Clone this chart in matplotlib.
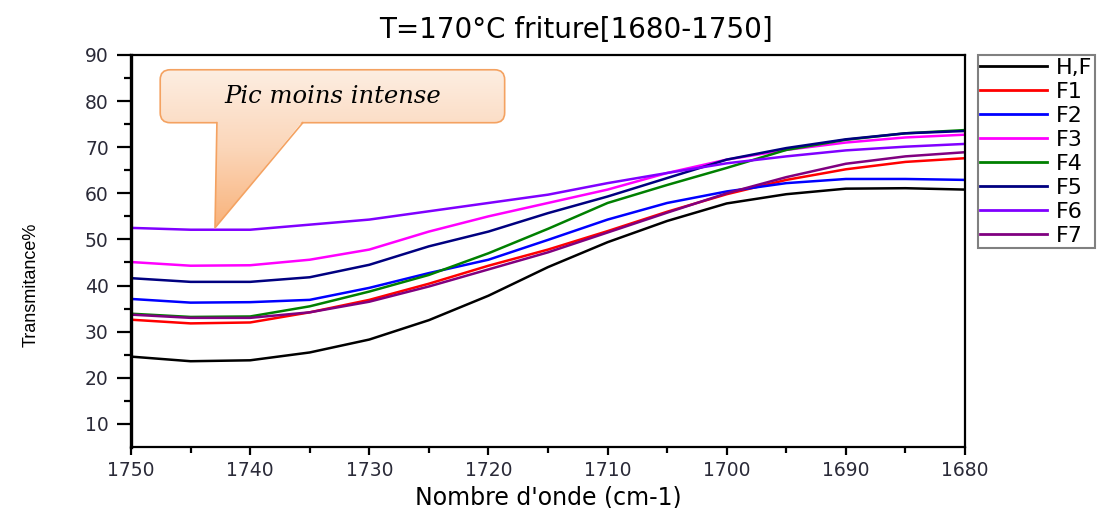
import matplotlib.pyplot as plt
import numpy as np
from matplotlib.patches import FancyBboxPatch, Polygon
from matplotlib.colors import LinearSegmentedColormap

# wavenumbers (cm-1)
wn = [1750, 1745, 1740, 1735, 1730, 1725, 1720, 1715, 1710, 1705, 1700, 1695, 1690, 1685, 1680]

HF = [24.6, 23.6, 23.8, 25.5, 28.3, 32.5, 37.8, 44.0, 49.4, 54.0, 57.8, 59.8, 61.0, 61.1, 60.8]
F1 = [32.6, 31.8, 32.0, 34.2, 36.9, 40.4, 44.3, 47.8, 51.8, 56.0, 59.8, 62.9, 65.2, 66.8, 67.6]
F2 = [37.1, 36.3, 36.4, 36.9, 39.5, 42.7, 45.6, 49.9, 54.3, 57.9, 60.4, 62.2, 63.1, 63.1, 62.9]
F3 = [45.1, 44.3, 44.4, 45.6, 47.8, 51.7, 55.0, 57.9, 60.8, 64.4, 67.3, 69.4, 71.0, 72.1, 72.7]
F4 = [33.9, 33.2, 33.3, 35.5, 38.7, 42.3, 47.0, 52.3, 57.9, 61.8, 65.5, 69.4, 71.6, 73.0, 73.7]
F5 = [41.6, 40.8, 40.8, 41.8, 44.5, 48.5, 51.7, 55.7, 59.3, 63.3, 67.3, 69.8, 71.7, 73.0, 73.5]
F6 = [52.5, 52.1, 52.1, 53.2, 54.3, 56.1, 57.9, 59.7, 62.2, 64.4, 66.5, 68.0, 69.3, 70.1, 70.7]
F7 = [33.7, 33.0, 33.0, 34.2, 36.5, 39.8, 43.5, 47.2, 51.5, 55.8, 60.0, 63.5, 66.4, 68.0, 68.9]

labels = ['H,F', 'F1', 'F2', 'F3', 'F4', 'F5', 'F6', 'F7']
colors = ['black', '#ff0000', '#0000ff', '#ff00ff', '#008000', '#000080', '#8000ff', '#800080']
series = [HF, F1, F2, F3, F4, F5, F6, F7]

plt.rcParams['font.family'] = ['DejaVu Sans']

fig = plt.figure(figsize=(11.01, 5.08), dpi=100)
ax = fig.add_axes([0.119, 0.120, 0.7575, 0.772])

for y, c, lab in zip(series, colors, labels):
    ax.plot(wn, y, color=c, lw=1.8, label=lab)

ax.set_xticks(np.arange(1750, 1679, -10))
ax.set_xticks(np.arange(1745, 1680, -10), minor=True)
ax.set_yticks(np.arange(10, 91, 10))
ax.set_yticks(np.arange(15, 90, 10), minor=True)
ax.tick_params(axis='x', which='major', direction='out', length=6, width=1.6, labelsize=13.5, pad=4)
ax.tick_params(axis='x', which='minor', direction='out', length=4, width=1.6)
ax.tick_params(axis='y', which='major', direction='out', length=10, width=1.6, labelsize=13.5, pad=6)
ax.tick_params(axis='y', which='minor', direction='out', length=5, width=1.6)
for lab in ax.get_xticklabels() + ax.get_yticklabels():
    lab.set_color('#2a2a38')
for s in ax.spines.values():
    s.set_linewidth(1.6)
ax.spines['left'].set_linewidth(2.4)

ax.set_title('T=170°C friture[1680-1750]', fontsize=20, pad=12, x=0.534)
ax.set_xlabel("Nombre d'onde (cm-1)", fontsize=17, va='baseline')
ax.xaxis.set_label_coords(0.5, -0.146)
ax.set_ylabel('Transmitance%', fontsize=13, family=['Liberation Sans', 'DejaVu Sans'])
ax.yaxis.set_label_coords(-0.11, 0.413)

# callout bubble (axes fraction coordinates)
trans = ax.transAxes
top, tip_y = 0.962, 0.559
cmap = LinearSegmentedColormap.from_list('peach', ['#fdeee2', '#fbd6b9', '#f9b27a'])
grad = np.linspace(0, 1, 200).reshape(-1, 1)

box = FancyBboxPatch((0.035, 0.827), 0.413, 0.135, boxstyle='round,pad=0,rounding_size=0.012',
                     transform=trans, facecolor='none', edgecolor='#f4a261', lw=1.2,
                     mutation_aspect=2.1, zorder=5)
ax.add_patch(box)
im = ax.imshow(grad, extent=(0.03, 0.46, tip_y, top), transform=trans, cmap=cmap,
               aspect='auto', zorder=4.9, origin='upper')
im.set_clip_path(box)

ptr = Polygon([(0.103, 0.832), (0.206, 0.832), (0.1007, tip_y)], closed=True, transform=trans,
              facecolor='none', edgecolor='none', zorder=5.1)
ax.add_patch(ptr)
im2 = ax.imshow(grad, extent=(0.03, 0.46, tip_y, top), transform=trans, cmap=cmap,
                aspect='auto', zorder=5.1, origin='upper')
im2.set_clip_path(ptr)
ax.plot([0.103, 0.1007, 0.206], [0.827, tip_y, 0.827], transform=trans, color='#f4a261',
        lw=1.2, zorder=5.2)

ax.set_xlim(1750, 1680)
ax.set_ylim(5, 90)

ax.text(0.242, 0.893, 'Pic moins intense', transform=trans, ha='center', va='center',
        fontsize=17.5, style='italic', family=['DejaVu Serif'], zorder=7)

leg = fig.legend(loc='upper left', bbox_to_anchor=(0.888, 0.892), fontsize=16,
                 frameon=True, fancybox=False, handlelength=3.0, labelspacing=0.18,
                 borderpad=0.12, borderaxespad=0, handletextpad=0.4, edgecolor='#606060')
leg.get_frame().set_linewidth(1.5)
for h in leg.get_lines():
    h.set_linewidth(2)

fig.savefig('out.png', dpi=100)
